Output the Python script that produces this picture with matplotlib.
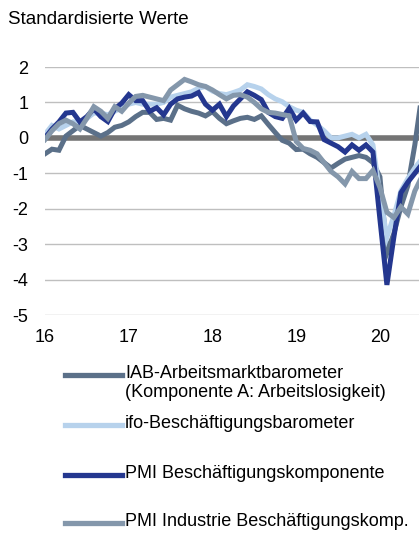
import numpy as np
import matplotlib.pyplot as plt
from matplotlib.lines import Line2D

plt.rcParams['font.family'] = ['Liberation Sans', 'DejaVu Sans']

# -- DATA (monthly, Jan 2016 onwards, standardised values)
iab = [-0.45, -0.32, -0.35, 0.05, 0.2, 0.35, 0.25, 0.15, 0.05, 0.15,
       0.3, 0.35, 0.45, 0.6, 0.72, 0.72, 0.52, 0.55, 0.5, 0.92,
       0.82, 0.75, 0.7, 0.62, 0.74, 0.55, 0.4, 0.48, 0.55, 0.58,
       0.52, 0.62, 0.38, 0.15, -0.07, -0.15, -0.33, -0.32, -0.45, -0.55,
       -0.7, -0.85, -0.72, -0.6, -0.55, -0.5, -0.55, -0.7, -1.1, -3.25,
       -2.7, -1.95, -1.35, -0.2, 1.2]
ifo = [0.1, 0.35, 0.25, 0.35, 0.45, 0.45, 0.55, 0.7, 0.7, 0.65,
       0.75, 0.85, 0.95, 1.0, 0.95, 0.95, 0.95, 1.0, 1.15, 1.2,
       1.25, 1.3, 1.4, 1.45, 1.32, 1.25, 1.22, 1.28, 1.35, 1.5,
       1.45, 1.38, 1.22, 1.1, 1.02, 0.88, 0.78, 0.72, 0.5, 0.36,
       0.2, 0.0, 0.0, 0.05, 0.1, 0.0, 0.1, -0.2, -1.6, -2.8,
       -2.2, -1.5, -1.15, -0.85, -0.6]
pmi = [0.0, 0.25, 0.45, 0.7, 0.72, 0.45, 0.6, 0.82, 0.6, 0.46,
       0.82, 0.98, 1.22, 1.05, 1.05, 0.75, 0.85, 0.65, 0.95, 1.1,
       1.15, 1.18, 1.28, 0.95, 0.78, 0.95, 0.6, 0.9, 1.1, 1.3,
       1.2, 1.08, 0.72, 0.6, 0.55, 0.83, 0.5, 0.7, 0.46, 0.45,
       -0.05, -0.15, -0.25, -0.4, -0.2, -0.35, -0.2, -0.4, -2.3, -4.15,
       -2.8, -1.55, -1.25, -1.0, -0.75]
pmi_ind = [-0.05, 0.2, 0.4, 0.5, 0.4, 0.25, 0.55, 0.88, 0.75, 0.55,
           0.88, 0.75, 0.98, 1.17, 1.2, 1.15, 1.1, 1.05, 1.35, 1.5,
           1.65, 1.58, 1.5, 1.45, 1.35, 1.22, 1.1, 1.2, 1.22, 1.15,
           1.0, 0.82, 0.72, 0.7, 0.66, 0.62, -0.1, -0.3, -0.35, -0.45,
           -0.7, -0.95, -1.1, -1.3, -0.95, -1.15, -1.15, -0.92, -1.4, -2.1,
           -2.25, -1.95, -2.15, -1.5, -1.1]

year_ticks = [0, 12, 24, 36, 48]
year_labels = ['16', '17', '18', '19', '20']
y_ticks = [-5, -4, -3, -2, -1, 0, 1, 2]
y_labels = ['-5', '-4', '-3', '-2', '-1', '0', '1', '2']

names = ['IAB-Arbeitsmarktbarometer\n(Komponente A: Arbeitslosigkeit)',
         'ifo-Beschäftigungsbarometer',
         'PMI Beschäftigungskomponente',
         'PMI Industrie Beschäftigungskomp.']
colors = ['#5b7089', '#b7d2ec', '#24378f', '#8497ab']

# -- FIGURE
W, H = 419, 534
fig = plt.figure(figsize=(W / 100, H / 100), dpi=100)
ax = fig.add_axes([45 / W, 1 - 315 / H, 1 - 45 / W, (315 - 67) / H])

n = np.arange(len(iab))
for vals, c in zip([iab, ifo, pmi, pmi_ind], colors):
    ax.plot(n, vals, color=c, lw=3.6, solid_joinstyle='miter', zorder=3)

ax.axhline(0, color='#747474', lw=4, zorder=2)
ax.set_xlim(0, 53.6)
ax.set_ylim(-5, 2)
ax.set_yticks(y_ticks)
ax.set_yticklabels(y_labels)
ax.set_xticks(year_ticks)
ax.set_xticklabels(year_labels)
ax.grid(axis='y', color='#bfbfbf', lw=1)
ax.set_axisbelow(True)
ax.tick_params(length=0, labelsize=13, colors='#000000')
ax.tick_params(axis='y', pad=12)
ax.tick_params(axis='x', pad=10)
for s in ax.spines.values():
    s.set_visible(False)

fig.text(8 / W, 1 - 20 / H, 'Standardisierte Werte', fontsize=13.5,
         va='center', ha='left')

# -- LEGEND
leg_y = [375, 425, 475, 523]
for name, c, yy in zip(names, colors, leg_y):
    fig.add_artist(Line2D([65 / W, 122 / W], [1 - yy / H, 1 - yy / H],
                          color=c, lw=3.8, transform=fig.transFigure))
    fig.text(125 / W, 1 - (yy - 9.5) / H, name, fontsize=13, va='top',
             ha='left', linespacing=1.1)

fig.savefig('out.png', dpi=100)
